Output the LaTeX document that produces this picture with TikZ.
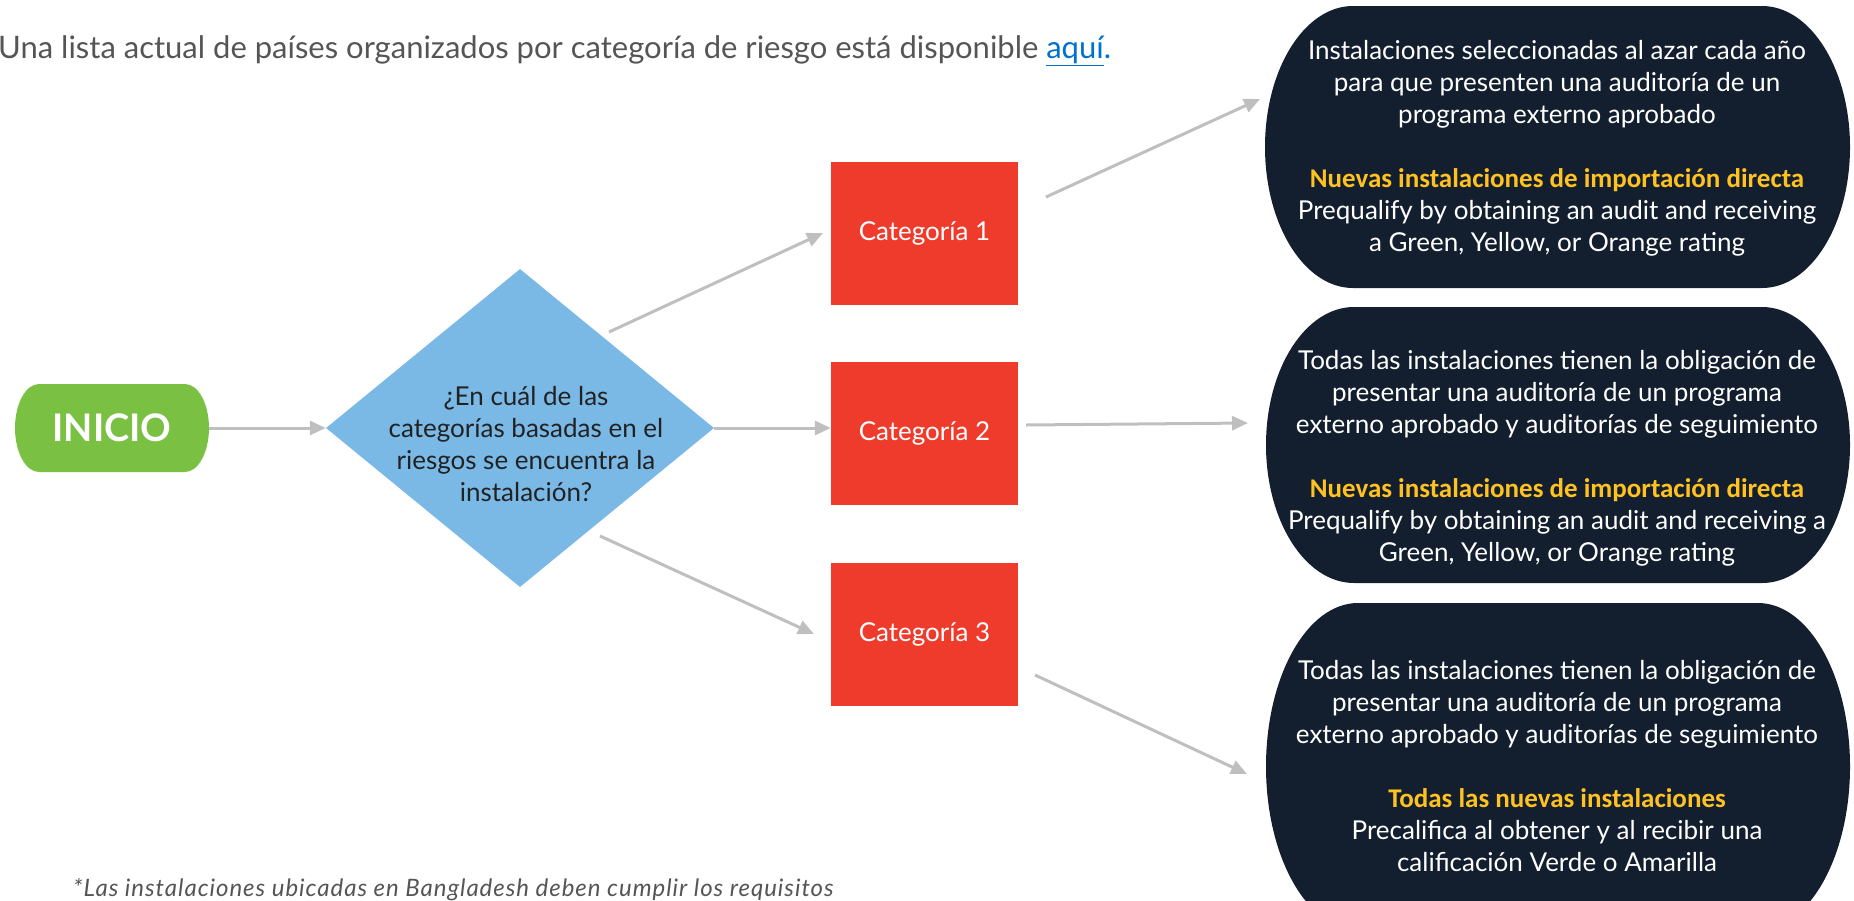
\documentclass[tikz,border=0pt]{standalone}
\usepackage{fontspec}
\setmainfont{Lato}
\newfontfamily\calfont{Carlito}
\newfontfamily\footfont[LetterSpace=4]{Lato}
\usetikzlibrary{arrows.meta,shapes.geometric,calc}
\definecolor{startgreen}{RGB}{122,193,67}
\definecolor{qblue}{RGB}{122,184,230}
\definecolor{catred}{RGB}{238,59,43}
\definecolor{navy}{RGB}{19,31,46}
\definecolor{spark}{RGB}{255,194,32}
\definecolor{linegray}{RGB}{191,191,191}
\definecolor{txtgray}{RGB}{85,85,85}
\definecolor{linkblue}{RGB}{0,113,206}
\definecolor{qtext}{RGB}{34,34,34}
\newcommand\capsule[7]{% color, x1, y1, x2, y2, rx, ry
  \fill[#1] ({#2+#6},#3) -- ({#4-#6},#3)
    arc[start angle=90,end angle=-90,x radius=#6pt,y radius=#7pt]
    -- ({#2+#6},#5)
    arc[start angle=270,end angle=90,x radius=#6pt,y radius=#7pt] -- cycle;}
\tikzset{
  arr/.style={draw=linegray, line width=3pt, -{Triangle[length=16pt,width=14pt]}},
  catbox/.style={fill=catred, minimum width=187pt, minimum height=143pt, inner sep=0pt,
    text=white, font=\fontsize{26}{30}\selectfont},
  etext/.style={text=white, align=center, inner sep=0pt, font=\fontsize{26}{32}\selectfont}
}
\newcommand\yel[1]{\textcolor{spark}{\calfont\bfseries\fontsize{27}{32}\selectfont #1}}
\begin{document}
\begin{tikzpicture}[x=1pt,y=-1pt]
\useasboundingbox (0,0) rectangle (1854,900);
\clip (0,0) rectangle (1854,900);

% top note
\node[anchor=base west, inner sep=0pt, text=txtgray, font=\fontsize{31}{34}\selectfont] (note) at (-2,58)
  {Una lista actual de países organizados por categoría de riesgo está disponible \textcolor{linkblue}{\underline{aquí}.}};

% start
\capsule{startgreen}{15}{384}{209}{472}{24}{44}
\node[text=white, font=\bfseries\fontsize{38}{40}\selectfont, minimum width=194pt, minimum height=88pt, inner sep=0pt] (inicio) at (112,428) {INICIO};

% decision
\node[diamond, fill=qblue, minimum width=388pt, minimum height=318pt, inner sep=0pt] (q) at (520,428) {};
\node[text=qtext, align=center, inner sep=0pt, font=\fontsize{26}{32}\selectfont] (qt) at (526,444)
  {¿En cuál de las\\categorías basadas en el\\riesgos se encuentra la\\instalación?};

% categories
\node[catbox] (c1) at (924.5,233) {Categoría 1};
\node[catbox] (c2) at (924.5,433.5) {Categoría 2};
\node[catbox] (c3) at (924.5,634) {Categoría 3};

% outcome shapes
\capsule{navy}{1265}{6}{1850}{288}{88}{141}
\capsule{navy}{1266}{307}{1850}{583}{88}{138}
\capsule{navy}{1266}{603}{1850}{930}{92}{163.5}

\node[etext] (e1) at (1557,148) {Instalaciones seleccionadas al azar cada año\\para que presenten una auditoría de un\\programa externo aprobado\\[32pt]
  \yel{Nuevas instalaciones de importación directa}\\Prequalify by obtaining an audit and receiving\\a Green, Yellow, or Orange rating};
\node[etext] (e2) at (1557,458) {Todas las instalaciones tienen la obligación de\\presentar una auditoría de un programa\\externo aprobado y auditorías de seguimiento\\[32pt]
  \yel{Nuevas instalaciones de importación directa}\\Prequalify by obtaining an audit and receiving a\\Green, Yellow, or Orange rating};
\node[etext] (e3) at (1557,766) {Todas las instalaciones tienen la obligación de\\presentar una auditoría de un programa\\externo aprobado y auditorías de seguimiento\\[32pt]
  \yel{Todas las nuevas instalaciones}\\Precalifica al obtener y al recibir una\\calificación Verde o Amarilla};

% connector end points
\coordinate (q1s) at (609,332);
\coordinate (c1t) at (823,233);
\coordinate (q3s) at (600,536);
\coordinate (c3t) at (814,634);
\coordinate (c1s) at (1046,197);
\coordinate (e1t) at (1260,99);
\coordinate (c2s) at (1026,425);
\coordinate (e2t) at (1248,423);
\coordinate (c3s) at (1035,675);
\coordinate (e3t) at (1247,774);

\draw[arr] (inicio.east) -- (q.west);
\draw[arr] (q.east) -- (q.east -| c2.west);
\draw[arr] (q1s) -- (c1t);
\draw[arr] (q3s) -- (c3t);
\draw[arr] (c1s) -- (e1t);
\draw[arr] (c2s) -- (e2t);
\draw[arr] (c3s) -- (e3t);

% footnote
\node[anchor=base west, inner sep=0pt, text=txtgray, font=\footfont\itshape\fontsize{24}{26}\selectfont] (foot) at (73,896)
  {*Las instalaciones ubicadas en Bangladesh deben cumplir los requisitos};
\end{tikzpicture}
\end{document}
